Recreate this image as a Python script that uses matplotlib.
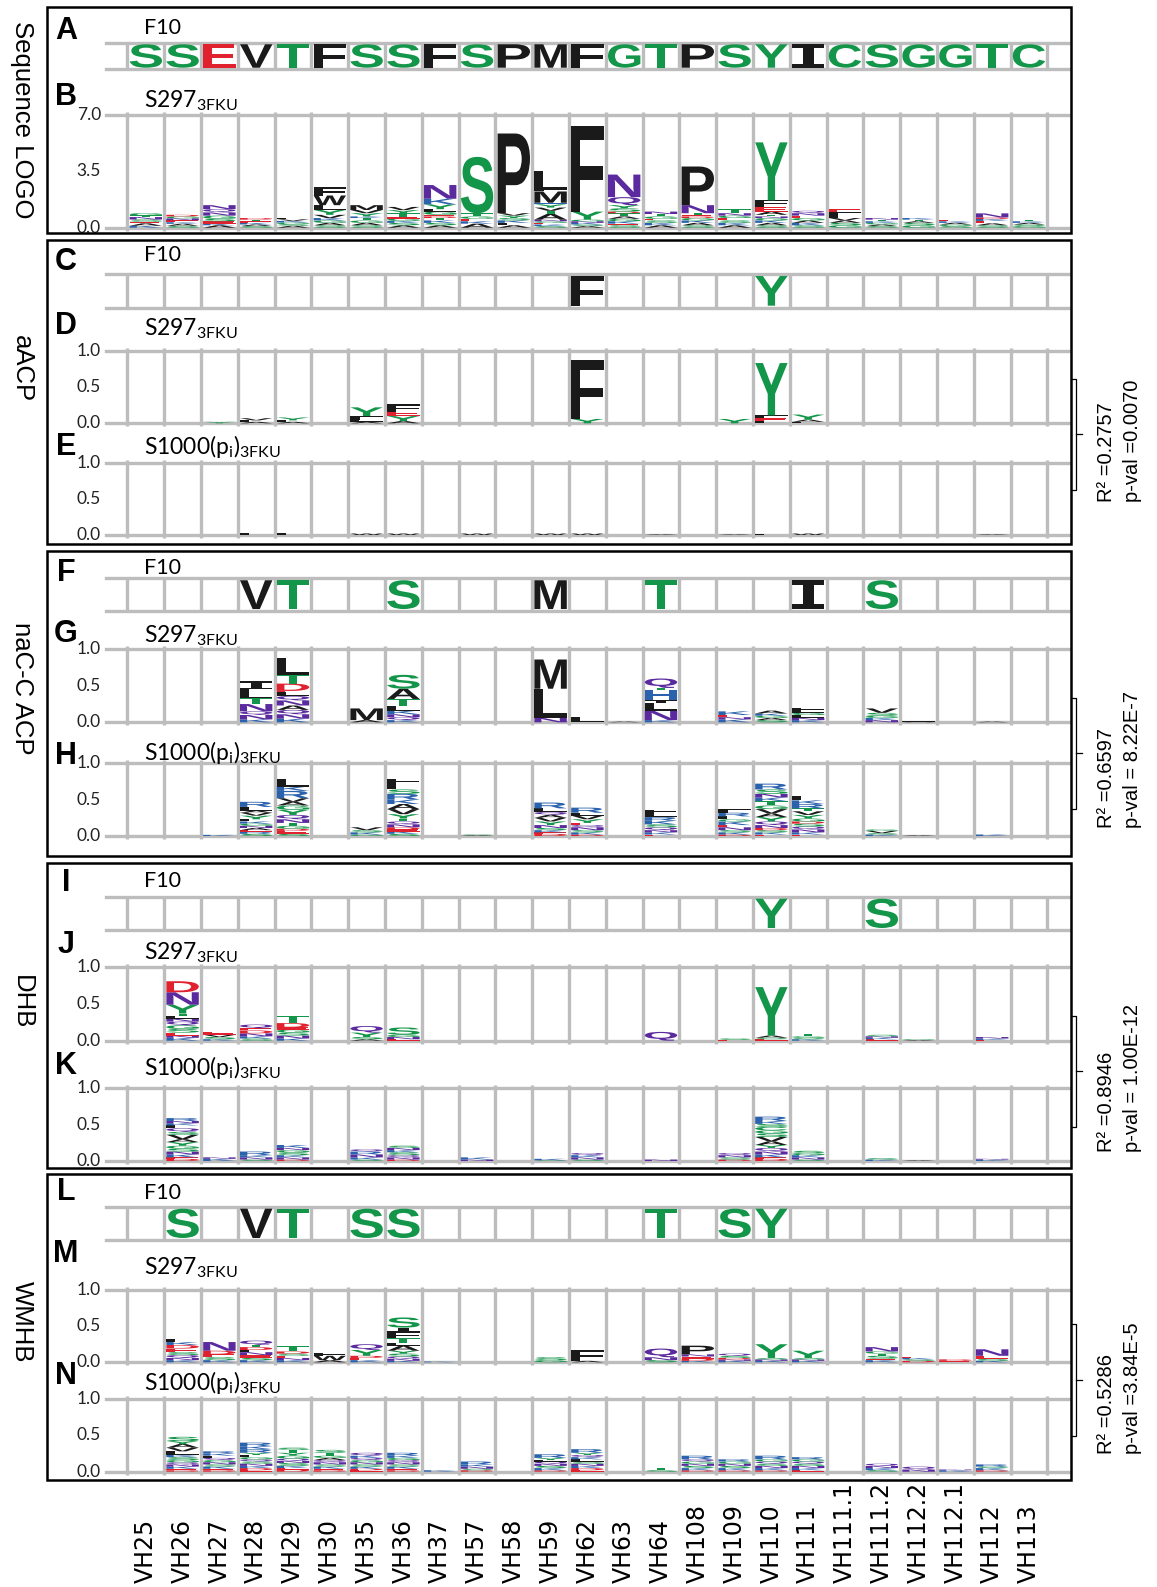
import numpy as np
import matplotlib
matplotlib.use("Agg")
import matplotlib.pyplot as plt
from matplotlib.textpath import TextPath
from matplotlib.font_manager import FontProperties
from matplotlib.patches import PathPatch, Rectangle
from matplotlib.transforms import Affine2D, blended_transform_factory
from matplotlib.lines import Line2D

plt.rcParams['mathtext.fontset'] = 'custom'
plt.rcParams['mathtext.rm'] = 'Lato'
plt.rcParams['mathtext.it'] = 'Lato:italic'
plt.rcParams['mathtext.bf'] = 'Lato:bold'

# ---------------- data ----------------
positions = ["VH25", "VH26", "VH27", "VH28", "VH29", "VH30", "VH35", "VH36", "VH37",
             "VH57", "VH58", "VH59", "VH62", "VH63", "VH64", "VH108", "VH109", "VH110",
             "VH111", "VH111.1", "VH111.2", "VH112.2", "VH112.1", "VH112", "VH113"]

f10_full = "SSEVTFSSFSPMFGTPSYICSGGTC"
f10_aacp = "------------F----Y-------"
f10_nacc = "---VT--S---M--T---I-S----"
f10_dhb = "-----------------Y--S----"
f10_wmhb = "-S-VT-SS------T-SY-------"

# stacks: bottom -> top, token = letter + height
logo_B = [
    "K.12 A.15 E.1 S.14 N.15 T.1 G.14",
    "S.12 A.12 K.1 E.12 N.12 G.12 D.1",
    "A.15 K.1 E.15 S.15 G.2 N.2 Q.2 N.25",
    "S.1 A.1 K.1 E.1 T.1 D.1",
    "A.12 S.1 G.1 K.1 V.1 L.08",
    "S.15 A.15 G.15 K.15 V.2 Y.3 L.3 W.6 F.5",
    "S.15 A.15 G.15 T.15 K.1 Y.2 V.2 M.3",
    "A.15 S.15 K.12 G.15 E.12 T.2 Y.2 V.2",
    "A.15 S.15 K.15 T.15 D.1 E.1 G.2 L.15 Y.3 K.35 N.85",
    "A.25 K.15 E.15 G.15 T.2 S3.5",
    "A.15 L.15 K.15 S.15 Y.15 V.15 P4.95",
    "S.1 K.1 E.1 G.1 N.1 A.35 T.2 V.2 Y.2 H.1 M.7 F.1 L1.2",
    "A.1 S.1 K.1 N.1 G.1 Y.5 F5.3",
    "S.15 E.1 K.15 G.15 A.15 T.2 D.1 S.2 Y.2 Q.5 N1.4",
    "A.15 K.15 S.15 E.1 G.15 T.15 N.15",
    "S.15 A.15 K.15 G.15 D.1 E.1 T.1 N.5 P2.4",
    "A.15 K.15 S.15 E.15 G.15 N.15 T.25",
    "S.15 A.15 K.15 G.15 N.1 T.1 A.2 E.3 F.4 Y3.6",
    "S.15 K.15 A.15 G.15 E.15 N.15 Q.15",
    "G.15 S.15 A.15 V.15 L.2 F.15 E.2",
    "S.1 A.1 G.1 K.1 T.1 N.1",
    "G.15 S.15 A.1 T.1 K.1",
    "S.1 G.1 A.1 K.1 E.08",
    "S.15 A.12 E.15 K.12 D.1 N.25",
    "G.1 S.1 A.1 K.1 T.1",
]

logo_D = ["", "", "Y.02", "A.02 L.02 V.03", "A.02 L.02 Y.04", "", "A.02 L.03 F.05 Y.12",
          "A.03 Y.07 E.06 F.1", "", "", "", "", "Y.06 F.81", "", "", "", "Y.06",
          "L.03 E.04 F.04 Y.72", "L.02 A.03 Y.07", "", "", "", "", "", ""]

logo_E = ["", "", "", "L.01 F.02", "L.01 F.02", "", "W.02", "W.02", "", "W.02", "",
          "W.02", "W.02", "", "A.01", "", "A.01", "L.02", "W.02", "", "", "", "", "A.01", ""]

logo_G = ["", "", "", "K.04 N.06 Q.05 N.1 T.08 L.12 I.11",
          "K.05 N.06 Q.06 A.06 N.07 Q.06 L.05 E.02 D.1 T.12 L.23",
          "", "A.03 M.16", "K.03 Q.04 N.04 K.05 L.07 T.09 A.14 S.19",
          "", "", "", "N.06 L.4 M.4", "L.07", "A.01", "K.03 N.13 L.1 I.04 H.14 T.03 Q.13",
          "", "K.04 N.03 E.03 K.05", "S.03 A.03 G.03 K.03 A.04", "K.03 N.03 L.04 G.03 L.03 F.04",
          "", "N.03 K.03 G.03 S.04 V.06", "A.01 L.01", "", "A.01", ""]

logo_H = ["", "", "K.015",
          "S.03 R.03 E.02 A.03 N.03 G.03 K.03 L.03 Y.05 V.04 A.03 L.05 R.07",
          "S.03 E.04 D.03 G.04 T.04 N.05 Q.06 Y.07 G.06 A.05 V.05 R.1 K.06 L.1",
          "", "G.02 K.03 S.03 V.04",
          "S.03 K.03 E.03 D.03 N.04 Q.04 T.04 Y.06 V.07 A.07 K.06 R.08 S.06 L.08 F.07",
          "", "A.01 S.01", "",
          "D.03 E.02 K.03 S.03 N.04 Y.05 V.05 A.04 Q.04 L.05 R.08",
          "D.02 K.03 S.03 N.04 Q.03 E.03 Y.05 V.05 L.04 R.07",
          "", "E.02 K.03 N.03 Q.04 S.04 K.05 R.05 L.06 F.04", "",
          "D.02 K.03 S.03 N.04 E.03 K.05 G.03 L.04 R.05 F.05",
          "E.02 K.03 S.03 D.03 N.04 Q.05 Y.06 A.05 V.06 G.05 T.06 K.05 N.05 S.06 R.08",
          "E.02 K.03 N.04 Q.04 S.04 D.03 G.04 Y.05 V.05 T.04 R.06 K.05 L.06",
          "", "K.02 S.02 V.03 G.02", "A.01", "", "K.02", ""]

logo_J = ["", "K.04 N.03 E.04 S.05 G.05 Q.05 N.04 L.04 T.03 Y.12 N.17 D.15",
          "K.02 S.03 V.03 E.04", "S.03 K.03 N.04 D.04 E.03 Q.05",
          "K.03 N.04 S.04 G.04 E.03 D.06 T.1", "", "A.02 S.03 Y.06 Q.09",
          "E.02 N.03 G.03 S.1", "", "", "", "", "", "", "Q.12", "", "E.01 S.02",
          "E.02 S.02 A.03 Y.66", "K.02 S.02 G.02 T.03", "", "E.02 K.02 N.02 S.02",
          "A.01 G.01", "", "E.01 K.02 N.02", ""]

logo_K = ["", "D.03 E.02 K.04 N.04 S.04 G.04 Y.05 A.04 V.06 S.04 Q.05 L.04 K.03 N.03 R.04",
          "K.03 N.02", "S.02 N.03 K.03 R.05", "D.02 N.03 K.03 S.04 G.03 N.03 K.04", "",
          "S.02 K.03 N.04 R.04 Q.03", "D.02 N.03 Q.03 S.04 K.03 N.03 S.03", "",
          "N.02 K.03", "", "S.01 K.02", "S.02 N.03 K.03 Q.03", "", "N.02", "",
          "D.02 S.03 N.03 Q.03",
          "D.03 E.02 K.04 N.04 Q.05 Y.04 A.05 V.06 S.05 G.04 C.05 S.04 K.04 R.06",
          "S.02 N.03 K.03 G.03 S.03", "", "K.02 S.02", "A.01", "", "K.02 N.01", ""]

logo_M = ["", "K.03 N.03 Q.04 S.04 E.05 D.05 K.04 L.04", "K.03 S.04 E.04 D.05 N.12",
          "K.03 S.03 E.04 N.04 L.03 D.04 T.03 Q.06", "K.03 N.03 E.03 S.03 D.03 T.08",
          "A.03 W.06 F.04", "K.03 E.03 D.03 Y.08 Q.08",
          "K.02 N.03 Q.03 S.04 Y.04 A.07 L.04 T.06 F.09 I.06 S.14", "K.01", "", "",
          "G.03 S.04", "A.02 F.15", "", "S.03 N.04 Q.12", "K.02 D.03 E.03 N.03 P.12",
          "K.02 N.02 D.02 S.03 Q.03", "K.02 N.02 S.02 Y.19", "K.02 N.02 S.02 Y.1", "",
          "K.03 E.02 S.04 T.03 G.03 N.06", "D.02 S.02 K.02 E.02", "E.02 D.02",
          "K.02 S.03 E.04 N.09", ""]

logo_N = ["", "D.02 E.02 K.03 N.03 Q.03 G.03 S.04 K.03 L.05 V.05 A.05 Y.04 S.06",
          "D.02 E.02 K.03 S.03 N.03 G.03 Q.03 L.03 K.03 R.03",
          "E.02 D.03 K.03 N.03 S.03 Q.03 G.03 L.03 Y.03 R.05 K.04 R.05",
          "D.03 E.02 K.03 S.04 N.03 Q.03 G.04 Y.04 T.04 S.03",
          "D.02 E.02 K.03 S.03 N.03 Q.03 A.03 G.03 T.04 S.04",
          "E.02 D.02 K.03 S.03 N.03 G.03 Q.03 K.03 Q.04",
          "D.02 E.02 K.03 S.03 N.03 Q.03 G.03 K.03 R.04", "K.02",
          "D.02 S.02 N.03 K.03 R.04", "",
          "D.02 K.03 S.03 N.03 Q.03 L.02 Y.03 R.05",
          "E.02 D.03 K.03 N.03 S.03 L.03 K.03 Q.03 Y.03 R.05", "", "S.02 T.03",
          "D.02 K.03 S.03 N.03 G.03 Q.03 R.05", "D.02 K.03 S.03 N.03 G.03 R.03",
          "D.02 K.03 N.03 S.03 Q.03 G.03 R.05", "E.02 K.03 N.03 S.03 Q.03 G.03 R.03", "",
          "S.02 K.03 N.03 Q.03", "N.03 Q.04", "K.02 N.01", "D.02 K.03 S.02 R.03", ""]

group_names = ["Sequence LOGO", "aACP", "naC-C ACP", "DHB", "WMHB"]
r2_texts = ["R\u00b2 =0.2757", "R\u00b2 =0.6597", "R\u00b2 =0.8946", "R\u00b2 =0.5286"]
pval_texts = ["p-val =0.0070", "p-val = 8.22E-7", "p-val = 1.00E-12", "p-val =3.84E-5"]

# ---------------- drawing ----------------
W, H = 1157, 1587
fig = plt.figure(figsize=(W / 100, H / 100), dpi=100)


def fx(p):
    return p / W


def fy(p):
    return 1 - p / H


GRID = '#bdbdbd'
GLW = 2.4
GREEN, RED, PURPLE, BLUE, BLACK = '#13964a', '#e0222f', '#5a2a9e', '#2b62ad', '#1a1a1a'


def color_of(ch):
    if ch in "GSTYC":
        return GREEN
    if ch in "NQ":
        return PURPLE
    if ch in "KRH":
        return BLUE
    if ch in "DE":
        return RED
    return BLACK


FP = FontProperties(family='Liberation Sans', weight='bold')
FP_I = FontProperties(family='DejaVu Sans Mono', weight='bold')
_cache = {}


def glyph(ch):
    if ch not in _cache:
        tp = TextPath((0, 0), ch, size=1, prop=FP_I if ch == 'I' else FP)
        _cache[ch] = (tp, tp.get_extents())
    return _cache[ch]


def letter(ax, ch, x0, y0, w, h):
    tp, bb = glyph(ch)
    tr = (Affine2D().translate(-bb.x0, -bb.y0)
          .scale(w / bb.width, h / bb.height).translate(x0, y0))
    ax.add_patch(PathPatch(tr.transform_path(tp), fc=color_of(ch), ec='none', lw=0,
                           clip_on=False, zorder=3))


AX_L, AX_R = 106, 1069
COL0, COLW = 127.4, 36.8
XL = ((AX_L - COL0) / COLW, (AX_R - COL0) / COLW)
NCOL = len(positions)


def make_ax(top, bot, ymax):
    ax = fig.add_axes([fx(AX_L), fy(bot), fx(AX_R) - fx(AX_L), (bot - top) / H])
    ax.set_xlim(*XL)
    ax.set_ylim(0, ymax)
    ax.axis('off')
    return ax


def seq_row(top, bot, seq):
    ax = make_ax(top, bot, 1.0)
    ax.axhline(0, color=GRID, lw=GLW, clip_on=False, zorder=1)
    ax.axhline(1, color=GRID, lw=GLW, clip_on=False, zorder=1)
    ax.vlines(np.arange(NCOL + 1), 0, 1, color=GRID, lw=GLW, clip_on=False, zorder=1)
    for k, ch in enumerate(seq):
        if ch != '-':
            letter(ax, ch, k + 0.06, 0.06, 0.88, 0.88)
    return ax


def logo_row(top, bot, stacks, ymax=1.0):
    ax = make_ax(top, bot, ymax)
    ext = 3.0 / (bot - top) * ymax
    ax.axhline(0, color=GRID, lw=GLW, clip_on=False, zorder=1)
    ax.axhline(ymax, color=GRID, lw=GLW, clip_on=False, zorder=1)
    ax.vlines(np.arange(NCOL + 1), -ext, ymax + ext, color=GRID, lw=GLW,
              clip_on=False, zorder=1)
    for k, col in enumerate(stacks):
        y = 0.0
        for tok in col.split():
            ch, h = tok[0], float(tok[1:])
            letter(ax, ch, k + 0.06, y, 0.88, h)
            y += h
    tt = blended_transform_factory(fig.transFigure, ax.transData)
    for v in (0, ymax / 2, ymax):
        ax.text(fx(101), v, f"{v:.1f}", transform=tt, ha='right', va='center',
                family='Lato', fontsize=12.5, color='#222222', clip_on=False)
    return ax


# rows
seq_row(42.7, 69.3, f10_full)
logo_row(115, 227.7, logo_B, 7.0)
seq_row(274, 307.7, f10_aacp)
logo_row(350.7, 423.3, logo_D)
logo_row(462.7, 535, logo_E)
seq_row(578.3, 611, f10_nacc)
logo_row(649.3, 722.3, logo_G)
logo_row(763.3, 836, logo_H)
seq_row(896.7, 930, f10_dhb)
logo_row(967.3, 1040.7, logo_J)
logo_row(1088.3, 1161, logo_K)
seq_row(1206.7, 1240, f10_wmhb)
logo_row(1290, 1362.3, logo_M)
logo_row(1399, 1471.7, logo_N)

# boxes
boxes = [(7.5, 233), (240, 543.5), (550.5, 856), (862.7, 1167.5), (1174, 1480)]
for top, bot in boxes:
    fig.add_artist(Rectangle((fx(47), fy(bot)), fx(1071) - fx(47), (bot - top) / H,
                             transform=fig.transFigure, fill=False, ec='black', lw=1.8,
                             zorder=5))

# panel letters
panel_letters = [("A", 31), ("B", 97), ("C", 262), ("D", 326), ("E", 447), ("F", 573),
                 ("G", 634), ("H", 756), ("I", 883), ("J", 945), ("K", 1066), ("L", 1192),
                 ("M", 1254), ("N", 1376)]
for lab, yy in panel_letters:
    fig.text(fx(66), fy(yy), lab, ha='center', va='center', family='Liberation Sans',
             weight='bold', fontsize=22, color='black')

# row subtitles
F10_Y = [27, 254, 567, 880, 1192]
S297_Y = [100, 328, 635, 952, 1267]
S1000_Y = [447, 753, 1068, 1383]
for yy in F10_Y:
    fig.text(fx(144), fy(yy + 7), "F10", ha='left', va='baseline', family='Lato',
             fontsize=15.5)
for yy in S297_Y:
    fig.text(fx(144), fy(yy + 7), r"$\mathrm{S297}_{\mathrm{3FKU}}$", ha='left',
             va='baseline', fontsize=16.5)
for yy in S1000_Y:
    fig.text(fx(144), fy(yy + 7), r"$\mathrm{S1000(p}_{\mathrm{i}}\mathrm{)}_{\mathrm{3FKU}}$",
             ha='left', va='baseline', fontsize=16.5)

# left group labels
for name, yy in zip(group_names, [120, 369, 688, 1002, 1322]):
    fig.text(fx(22), fy(yy), name, rotation=270, ha='center', va='center',
             family='Liberation Sans', fontsize=18.5)

# right brackets + statistics
brackets = [(379, 490, 434, 502), (698, 809, 753, 828), (1016, 1127, 1071, 1152),
            (1324, 1436, 1380, 1454)]
for (bt, bb_, bm, tb), r2, pv in zip(brackets, r2_texts, pval_texts):
    xs = [fx(1071), fx(1076), fx(1076), fx(1071)]
    ys = [fy(bt), fy(bt), fy(bb_), fy(bb_)]
    fig.add_artist(Line2D(xs, ys, transform=fig.transFigure, color='black', lw=0.9))
    fig.add_artist(Line2D([fx(1076), fx(1082)], [fy(bm), fy(bm)], transform=fig.transFigure,
                          color='black', lw=0.9))
    fig.text(fx(1107), fy(tb), r2, rotation=90, ha='center', va='bottom',
             family='Liberation Sans', fontsize=14.5)
    fig.text(fx(1133), fy(tb), pv, rotation=90, ha='center', va='bottom',
             family='Liberation Sans', fontsize=14.5)

# x labels
for k, name in enumerate(positions):
    fig.text(fx(COL0 + COLW * (k + 0.5)), fy(1583), name, rotation=90, ha='center',
             va='bottom', family='DejaVu Sans', fontsize=17)

fig.savefig("out.png", dpi=100)
